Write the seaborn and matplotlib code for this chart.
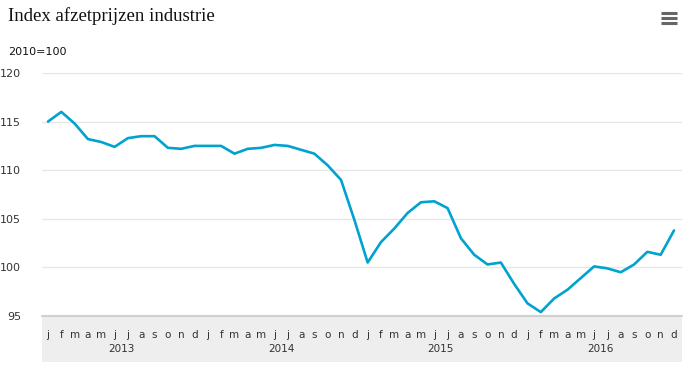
import matplotlib
matplotlib.use("Agg")
import matplotlib.pyplot as plt
import seaborn as sns
import pandas as pd
import numpy as np
from matplotlib.patches import Rectangle
from matplotlib.lines import Line2D

# Index afzetprijzen industrie, monthly 2013-2016 (2010=100)
years = [2013, 2014, 2015, 2016]
month_letters = ["j", "f", "m", "a", "m", "j", "j", "a", "s", "o", "n", "d"]
index_2013 = [115.0, 116.0, 114.8, 113.2, 112.9, 112.4, 113.3, 113.5, 113.5, 112.3, 112.2, 112.5]
index_2014 = [112.5, 112.5, 111.7, 112.2, 112.3, 112.6, 112.5, 112.1, 111.7, 110.5, 109.0, 104.9]
index_2015 = [100.5, 102.6, 104.0, 105.6, 106.7, 106.8, 106.1, 103.0, 101.3, 100.3, 100.5, 98.3]
index_2016 = [96.3, 95.4, 96.8, 97.7, 98.9, 100.1, 99.9, 99.5, 100.3, 101.6, 101.3, 103.8]

values = index_2013 + index_2014 + index_2015 + index_2016
df = pd.DataFrame({"month": np.arange(len(values)), "index": values})

sns.set_theme(style="white")
plt.rcParams["font.family"] = ["DejaVu Sans"]

fig = plt.figure(figsize=(6.98, 3.78), dpi=100)
ax = fig.add_axes([42 / 698, 62 / 378, 640 / 698, 243 / 378])

sns.lineplot(data=df, x="month", y="index", ax=ax, color="#00a3cf", linewidth=1.9,
             solid_joinstyle="round", solid_capstyle="round", zorder=3)

ax.set_ylim(95, 120)
ax.set_xlim(-0.45, 47.6)
ax.set_yticks([95, 100, 105, 110, 115, 120])
ax.set_yticklabels(["95", "100", "105", "110", "115", "120"], fontsize=8, color="#333333")
ax.tick_params(axis="y", length=0, pad=15)
for yv in [100, 105, 110, 115, 120]:
    ax.axhline(yv, color="#e6e6e6", linewidth=1, zorder=1)

ax.set_xticks(np.arange(len(values)))
ax.set_xticklabels(month_letters * len(years), fontsize=7.5, color="#333333")
ax.tick_params(axis="x", length=0, pad=10)
ax.set_xlabel("")
ax.set_ylabel("")
for s in ax.spines.values():
    s.set_visible(False)

# grey label band below the plot
band = Rectangle((0, -46 / 243), 1, 46 / 243, transform=ax.transAxes,
                 facecolor="#eeeeee", edgecolor="none", clip_on=False, zorder=0)
ax.add_patch(band)
ax.plot([0, 1], [0, 0], transform=ax.transAxes, color="#d0d0d0",
        linewidth=1.5, clip_on=False, zorder=2)

for k, yr in enumerate(years):
    ax.text(5.5 + 12 * k, -33 / 243, str(yr), transform=ax.get_xaxis_transform(),
            ha="center", va="center", fontsize=7.5, color="#333333")

fig.text(8 / 698, 1 - 16 / 378, "Index afzetprijzen industrie", family="Liberation Serif",
         fontsize=13.5, color="#111111", ha="left", va="center")
fig.text(8 / 698, 1 - 52 / 378, "2010=100", fontsize=8, color="#111111", ha="left", va="center")

# menu icon
for yy in [13, 18, 23]:
    fig.add_artist(Line2D([661 / 698, 677 / 698], [1 - yy / 378, 1 - yy / 378],
                          color="#666666", linewidth=2.2, solid_capstyle="butt"))

fig.savefig("out.png", dpi=100)
